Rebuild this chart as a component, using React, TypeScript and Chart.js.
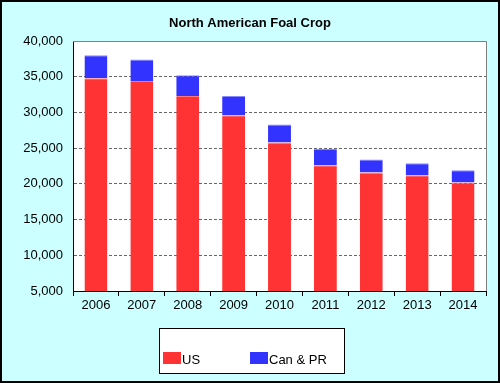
import React, { useEffect, useRef } from "react";
import { Chart, registerables } from "chart.js";

Chart.register(...registerables);

const categories = ["2006", "2007", "2008", "2009", "2010", "2011", "2012", "2013", "2014"];
const usValues = [34800, 34400, 32300, 29600, 25800, 22600, 21600, 21200, 20200];
const canPrValues = [3200, 3000, 2900, 2700, 2500, 2300, 1800, 1700, 1700];
const yTicks = [5000, 10000, 15000, 20000, 25000, 30000, 35000, 40000];
const titleText = "North American Foal Crop";

const RED = "#FF3333";
const BLUE = "#3333FF";
const BG = "#CCFFFF";
const FONT = "'Liberation Sans', Arial, sans-serif";

const framePlugin = {
  id: "frame",
  beforeDraw(chart: any) {
    const { ctx, width, height, chartArea } = chart;
    ctx.save();
    ctx.fillStyle = BG;
    ctx.fillRect(0, 0, width, height);
    ctx.strokeStyle = "#000000";
    ctx.lineWidth = 2;
    ctx.strokeRect(1, 1, width - 2, height - 2);
    ctx.fillStyle = "#FFFFFF";
    ctx.fillRect(chartArea.left, chartArea.top, chartArea.right - chartArea.left, chartArea.bottom - chartArea.top);
    ctx.restore();
  },
  afterDraw(chart: any) {
    const { ctx, chartArea } = chart;
    ctx.save();
    ctx.strokeStyle = "#808080";
    ctx.lineWidth = 1;
    ctx.beginPath();
    ctx.moveTo(chartArea.left, chartArea.top + 0.5);
    ctx.lineTo(chartArea.right + 0.5, chartArea.top + 0.5);
    ctx.lineTo(chartArea.right + 0.5, chartArea.bottom);
    ctx.stroke();
    // title
    ctx.fillStyle = "#000000";
    ctx.font = "bold 13px " + FONT;
    ctx.textAlign = "center";
    ctx.textBaseline = "middle";
    ctx.fillText(titleText, 250, 23);
    // legend box
    const lx = 159.5, ly = 328.5, lw = 185, lh = 45;
    ctx.fillStyle = "#FFFFFF";
    ctx.fillRect(lx, ly, lw, lh);
    ctx.strokeStyle = "#000000";
    ctx.strokeRect(lx, ly, lw, lh);
    const ds = chart.data.datasets;
    const items = [
      { x: 163, color: ds[0].backgroundColor, label: ds[0].label },
      { x: 250, color: ds[1].backgroundColor, label: ds[1].label },
    ];
    ctx.font = "13px " + FONT;
    ctx.textBaseline = "alphabetic";
    ctx.textAlign = "left";
    for (const it of items) {
      ctx.fillStyle = it.color;
      ctx.fillRect(it.x, 352, 18, 12);
      ctx.fillStyle = "#000000";
      ctx.fillText(it.label, it.x + 19, 364);
    }
    ctx.restore();
  },
};

export default function App() {
  const ref = useRef<HTMLCanvasElement>(null);
  useEffect(() => {
    document.body.style.margin = "0";
    const canvas = ref.current!;
    const chart = new Chart(canvas, {
      type: "bar",
      data: {
        labels: categories,
        datasets: [
          {
            label: "US",
            data: usValues,
            backgroundColor: RED,
            borderColor: "#FF7777",
            borderWidth: { top: 1, left: 0, right: 0, bottom: 0 },
            barPercentage: 0.5,
            categoryPercentage: 1,
          },
          {
            label: "Can & PR",
            data: canPrValues,
            backgroundColor: BLUE,
            borderColor: "#8888FF",
            borderWidth: { top: 1, left: 0, right: 0, bottom: 0 },
            barPercentage: 0.5,
            categoryPercentage: 1,
          },
        ],
      },
      options: {
        responsive: false,
        animation: false,
        layout: { padding: { left: 0, right: 14, top: 41, bottom: 0 } },
        plugins: {
          legend: { display: false },
          tooltip: { enabled: false },
          title: { display: false },
        },
        scales: {
          x: {
            stacked: true,
            grid: {
              display: true,
              drawOnChartArea: false,
              drawTicks: true,
              tickLength: 5,
              offset: true,
              color: "#000000",
            },
            border: { display: true, color: "#000000", width: 1 },
            ticks: {
              color: "#000000",
              font: { family: FONT, size: 13 },
              padding: 2,
              maxRotation: 0,
            },
            afterFit: (scale: any) => {
              scale.height = 92;
            },
          },
          y: {
            stacked: true,
            min: 5000,
            max: 40000,
            afterBuildTicks: (scale: any) => {
              scale.ticks = yTicks.map((v) => ({ value: v }));
            },
            grid: {
              color: "#666666",
              drawTicks: false,
              lineWidth: (c: any) => (c.tick && (c.tick.value === 5000 || c.tick.value === 40000) ? 0 : 1),
            },
            border: { display: true, color: "#000000", width: 1, dash: [3, 2] },
            ticks: {
              color: "#000000",
              font: { family: FONT, size: 13 },
              padding: 10,
              callback: (v: any) => Number(v).toLocaleString("en-US"),
            },
            afterFit: (scale: any) => {
              scale.width = 73;
            },
          },
        },
      },
      plugins: [framePlugin],
    });
    return () => chart.destroy();
  }, []);
  return (
    <div style={{ position: "absolute", left: 0, top: 0, width: 500, height: 383 }}>
      <canvas ref={ref} width={500} height={383} style={{ display: "block" }} />
    </div>
  );
}
